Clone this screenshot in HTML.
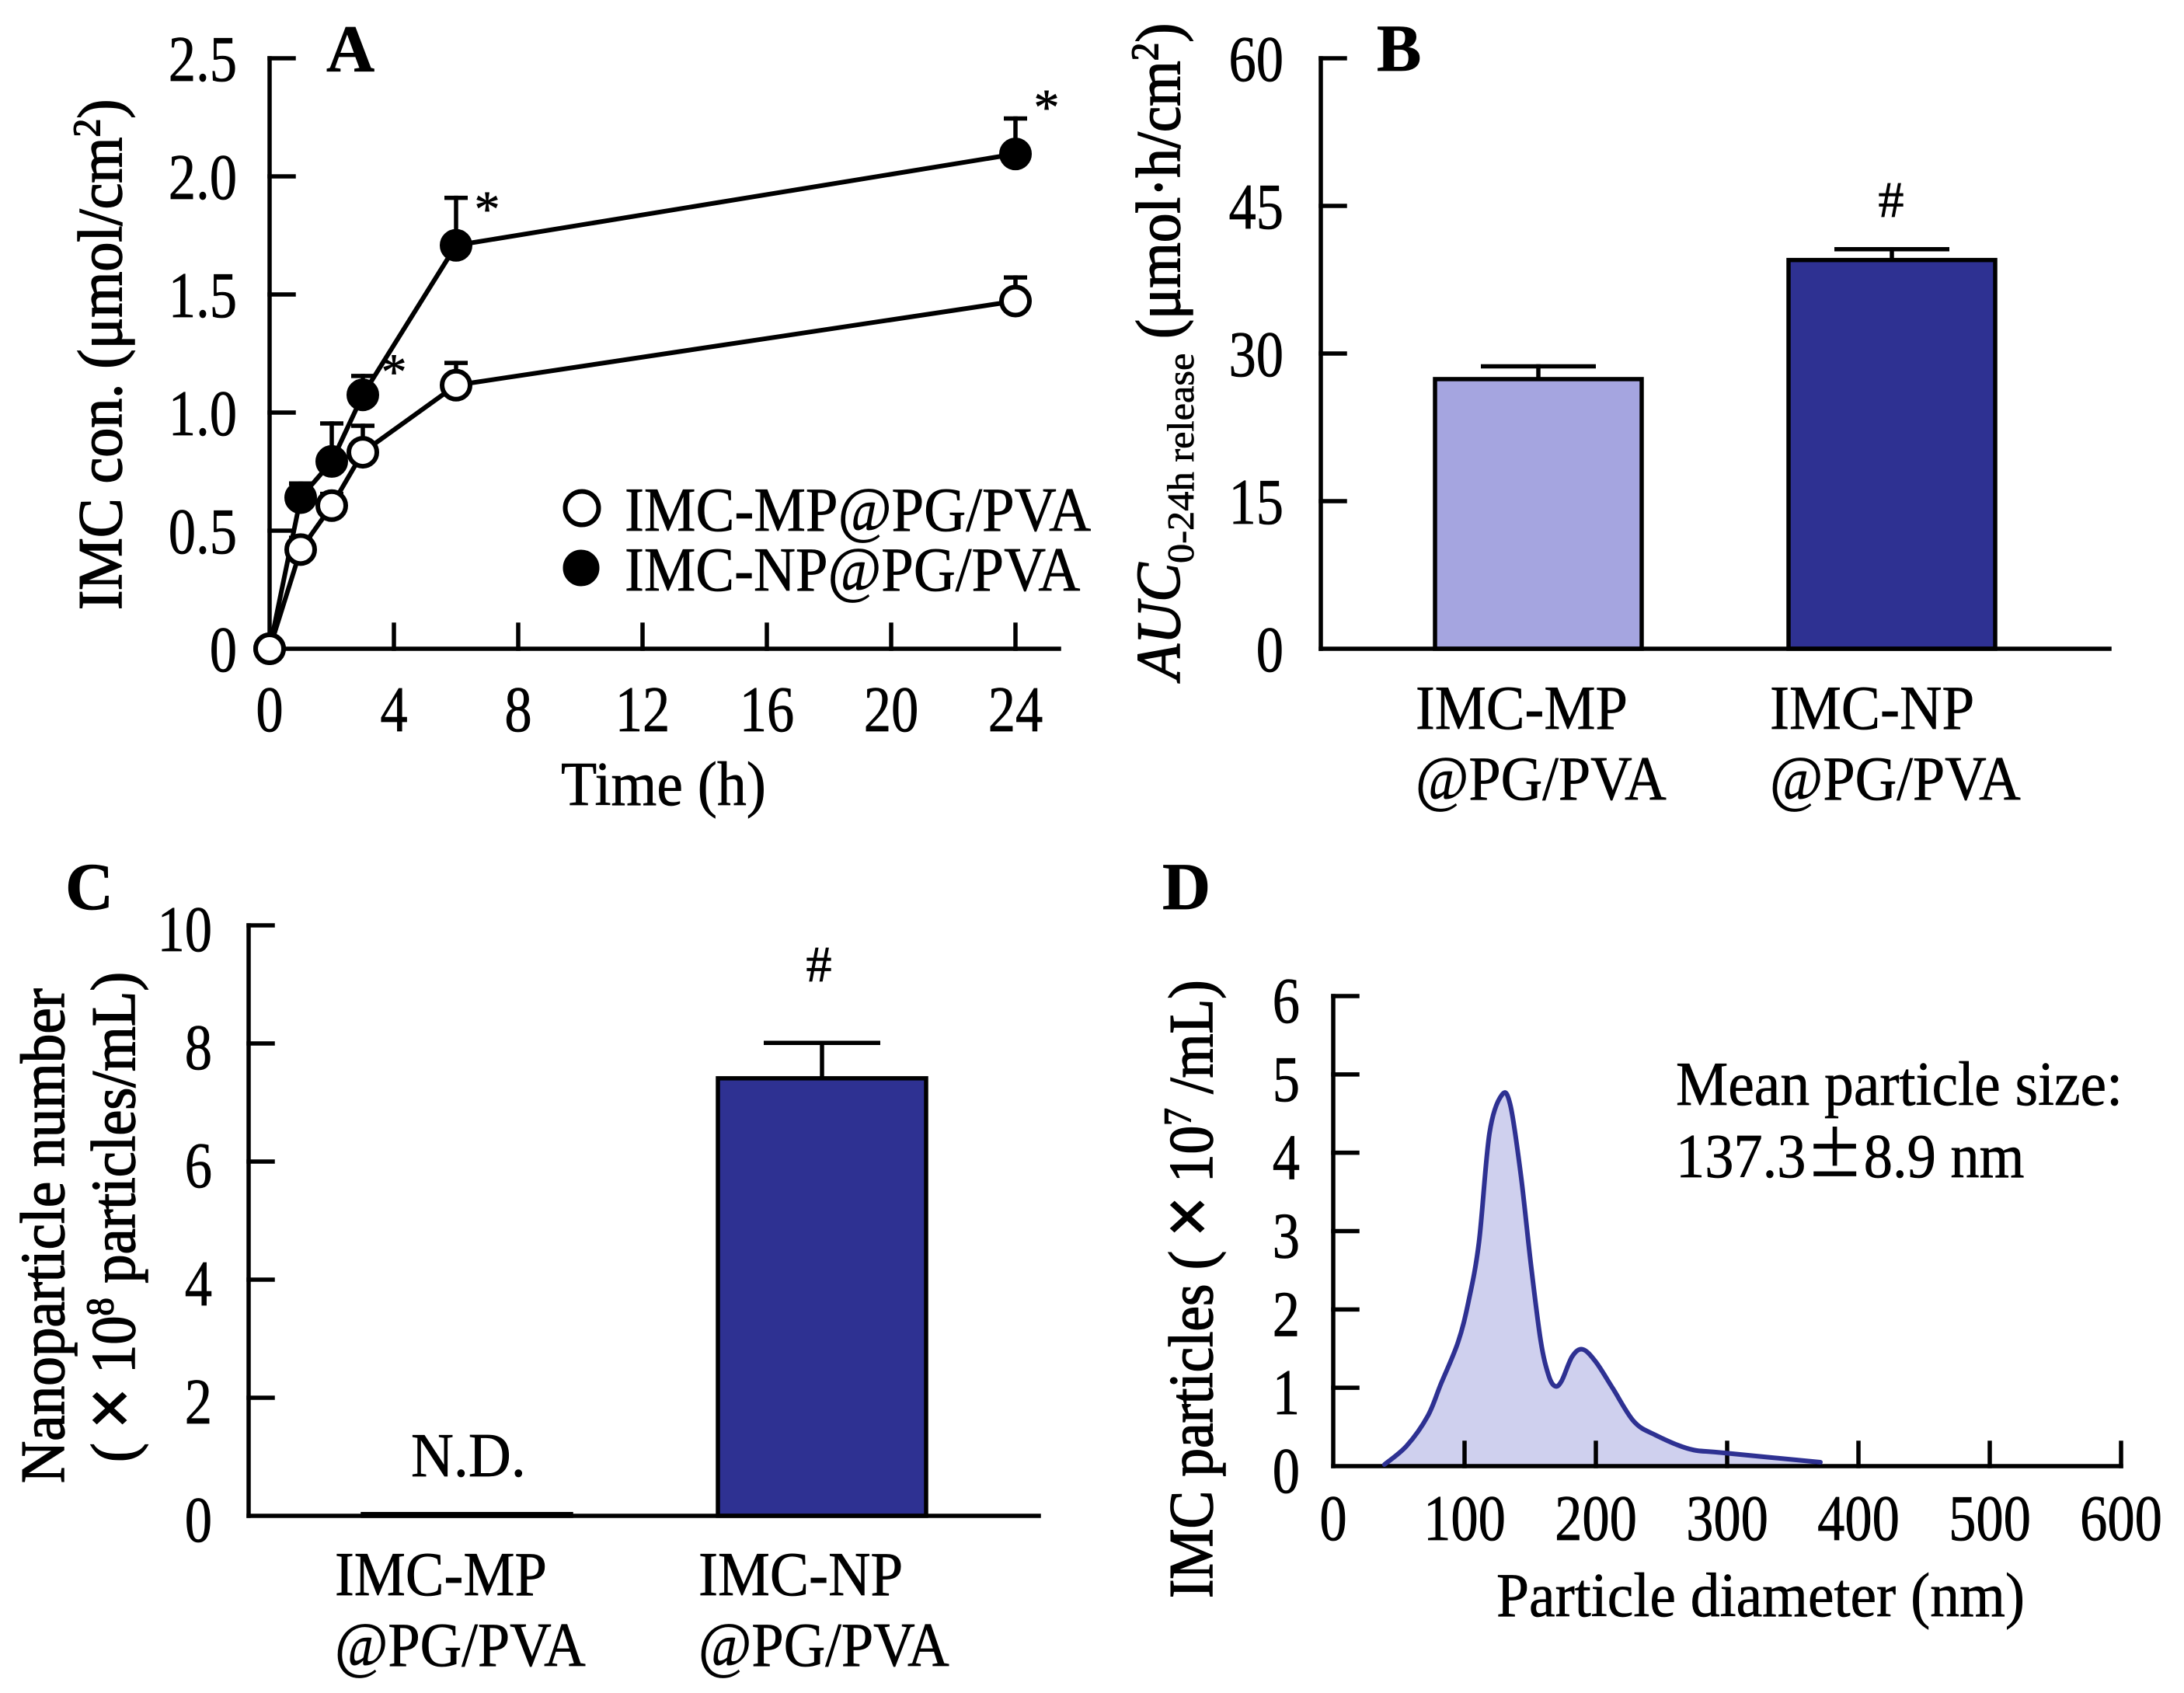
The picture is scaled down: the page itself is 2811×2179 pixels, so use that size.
<!DOCTYPE html>
<html lang="en">
<head>
<meta charset="utf-8">
<title>IMC release charts</title>
<style>
html,body{margin:0;padding:0;background:#fff;}
svg{display:block;}
text{font-family:"Liberation Serif","Times New Roman",serif;fill:#000;font-size:80px;stroke:#000;stroke-width:0.7px;}
.rot{stroke-width:1.5px;}
.bold{font-weight:bold;font-size:86px;}
.wide{font-family:"Noto Sans CJK SC","Liberation Sans",sans-serif;}
</style>
</head>
<body>
<svg id="figure" xmlns="http://www.w3.org/2000/svg" width="2811" height="2179" viewBox="0 0 2811 2179">
  <rect x="0" y="0" width="2811" height="2179" fill="#fff"/>

  <g id="panelA"></g>
  <g id="panelB"></g>
  <g id="panelC"></g>
  <g id="panelD"></g>

  <!-- panel letters -->
  <text class="bold" x="420" y="92">A</text>
  <text class="bold" x="1772" y="91">B</text>
  <text class="bold" x="84" y="1170">C</text>
  <text class="bold" x="1496" y="1170">D</text>

  <!-- panel A text -->
  <text class="rot" transform="translate(156,785) rotate(-90) scale(0.95,1)">IMC con. (μmol/cm<tspan dy="-28" style="font-size:50px">2</tspan><tspan dy="28">)</tspan></text>
  <text transform="translate(722,1036) scale(0.945,1)">Time (h)</text>
  <text transform="translate(804,683) scale(0.936,1)">IMC-MP@PG/PVA</text>
  <text transform="translate(804,760) scale(0.934,1)">IMC-NP@PG/PVA</text>

  <!-- panel B text -->
  <text class="rot" transform="translate(1518,875) rotate(-90) scale(0.94,1)" font-style="italic">AUC</text>
  <text transform="translate(1536,725) rotate(-90) scale(1.03,1)" style="font-size:49px">0-24h release</text>
  <text class="rot" transform="translate(1518,436) rotate(-90) scale(0.94,1)">(μmol·h/cm<tspan dy="-28" style="font-size:50px">2</tspan><tspan dy="28">)</tspan></text>
  <text transform="translate(1822,938) scale(0.93,1)">IMC-MP</text>
  <text transform="translate(1822,1029) scale(0.928,1)">@PG/PVA</text>
  <text transform="translate(2278,938) scale(0.94,1)">IMC-NP</text>
  <text transform="translate(2278,1029) scale(0.928,1)">@PG/PVA</text>
  <text x="2434" y="279" text-anchor="middle" style="font-size:66px">#</text>

  <!-- panel C text -->
  <text class="rot" transform="translate(82,1909) rotate(-90) scale(0.94,1)">Nanoparticle number</text>
  <text class="rot" transform="translate(173,1882) rotate(-90) scale(0.93,1)">( <tspan style="font-family:'Liberation Sans',sans-serif;font-size:96px">×</tspan> 10<tspan dy="-28" style="font-size:50px">8</tspan><tspan dy="28"> particles/mL)</tspan></text>
  <text transform="translate(529,1900) scale(0.95,1)">N.D.</text>
  <text transform="translate(431,2053) scale(0.93,1)">IMC-MP</text>
  <text transform="translate(431,2144) scale(0.928,1)">@PG/PVA</text>
  <text transform="translate(899,2053) scale(0.94,1)">IMC-NP</text>
  <text transform="translate(899,2144) scale(0.928,1)">@PG/PVA</text>
  <text x="1054" y="1263" text-anchor="middle" style="font-size:66px">#</text>

  <!-- panel D text -->
  <text class="rot" transform="translate(1560,2057) rotate(-90) scale(0.915,1)">IMC particles ( <tspan style="font-family:'Liberation Sans',sans-serif;font-size:96px">×</tspan> 10<tspan dy="-28" style="font-size:50px">7</tspan><tspan dy="28"> /mL)</tspan></text>
  <text transform="translate(1926,2080) scale(0.945,1)">Particle diameter (nm)</text>
  <text transform="translate(2157,1422) scale(0.945,1)">Mean particle size:</text>
  <text transform="translate(2157,1515) scale(0.93,1)">137.3<tspan class="wide">±</tspan>8.9 nm</text>
</svg>

<script>
// Panel A data
const timeHours = [0, 1, 2, 3, 6, 24];
const mpMeans = [0, 0.42, 0.606, 0.832, 1.116, 1.472];
const mpErrors = [0, 0.05, 0.05, 0.112, 0.094, 0.1];
const npMeans = [0, 0.64, 0.793, 1.075, 1.708, 2.095];
const npErrors = [0, 0.06, 0.161, 0.08, 0.201, 0.15];
const aSignificantHours = [3, 6, 24];
const aStarHeights = [1.1, 1.79, 2.22];
const aXTicks = [0, 4, 8, 12, 16, 20, 24];
const aYTicks = [0, 0.5, 1, 1.5, 2, 2.5];
const aYTickLabels = ['0', '0.5', '1.0', '1.5', '2.0', '2.5'];

// Panel B data
const bCategories = ['IMC-MP', 'IMC-NP'];
const bValues = [27.4, 39.5];
const bErrors = [1.3, 1.1];
const bYTicks = [0, 15, 30, 45, 60];

// Panel C data
const cCategories = ['IMC-MP', 'IMC-NP'];
const cValues = [0.03, 7.41];
const cErrors = [0, 0.6];
const cYTicks = [0, 2, 4, 6, 8, 10];

// Panel D data
const dDiameters = [39, 56, 72, 82, 95, 103, 111, 119, 128.5, 135, 143, 150.5, 158, 164, 169, 174, 182, 190, 200, 213, 229, 245, 271, 297, 371];
const dCounts = [0.02, 0.26, 0.64, 1.05, 1.58, 2.1, 2.86, 4.25, 4.74, 4.6, 3.7, 2.58, 1.6, 1.16, 1.02, 1.09, 1.4, 1.49, 1.33, 0.99, 0.57, 0.4, 0.22, 0.17, 0.05];
const dXTicks = [0, 100, 200, 300, 400, 500, 600];
const dYTicks = [0, 1, 2, 3, 4, 5, 6];

const NS = 'http://www.w3.org/2000/svg';
const LW = 5.5;

function add(parent, tag, attrs, name) {
  const el = document.createElementNS(NS, tag);
  Object.keys(attrs).forEach(function (k) { el.setAttribute(k, attrs[k]); });
  
  
  parent.appendChild(el);
  return el;
}

function tickText(parent, px, py, str, anchor, name) {
  const el = add(parent, 'text', {
    transform: 'translate(' + px + ',' + py + ') scale(0.84,1)',
    'text-anchor': anchor,
    style: 'font-size:84px'
  }, name);
  el.textContent = str;
  return el;
}

function seg(parent, x1, y1, x2, y2, name, color) {
  return add(parent, 'line', {
    x1: x1, y1: y1, x2: x2, y2: y2,
    stroke: color || '#000', 'stroke-width': LW, 'stroke-linecap': 'square'
  }, name);
}

function yAxis(parent, prefix, x0, xEnd, yTop, yBot, ticks, labels, sy, labelRight, labelDrop) {
  seg(parent, x0, yTop, x0, yBot, prefix + '-y-axis-line');
  seg(parent, x0, yBot, xEnd, yBot, prefix + '-x-axis-line');
  ticks.forEach(function (t, i) {
    if (t !== 0) {
      seg(parent, x0, sy(t), x0 + 31, sy(t), prefix + '-y-tick');
    }
    tickText(parent, labelRight, sy(t) + labelDrop, labels[i], 'end', prefix + '-y-tick-label');
  });
}

/* ---------- Panel A ---------- */
const aX = function (h) { return 347 + h * 40; };
const aY = function (v) { return 835 - v * 304; };
const gA = document.getElementById('panelA');
yAxis(gA, 'a', 347, 1363, 75, 835, aYTicks, aYTickLabels, aY, 305, 29);
aXTicks.forEach(function (t) {
  if (t !== 0) {
    seg(gA, aX(t), 835, aX(t), 804, 'a-x-tick');
  }
  tickText(gA, aX(t), 941, String(t), 'middle', 'a-x-tick-label');
});

function drawSeries(parent, means, errors, filled, prefix) {
  timeHours.forEach(function (h, i) {
    if (errors[i] > 0) {
      const top = aY(means[i] + errors[i]);
      seg(parent, aX(h), aY(means[i]), aX(h), top, prefix + '-error-bar');
      add(parent, 'line', {
        x1: aX(h) - 15, y1: top, x2: aX(h) + 15, y2: top,
        stroke: '#000', 'stroke-width': LW
      }, prefix + '-error-cap');
    }
  });
  const pts = timeHours.map(function (h, i) { return aX(h) + ',' + aY(means[i]); }).join(' ');
  add(parent, 'polyline', {
    points: pts, fill: 'none', stroke: '#000', 'stroke-width': 6, 'stroke-linejoin': 'round'
  }, prefix + '-line');
  timeHours.forEach(function (h, i) {
    add(parent, 'circle', {
      cx: aX(h), cy: aY(means[i]), r: 18,
      fill: filled ? '#000' : '#fff', stroke: '#000', 'stroke-width': 6
    }, prefix + '-point');
  });
}
drawSeries(gA, npMeans, npErrors, true, 'np-series');
drawSeries(gA, mpMeans, mpErrors, false, 'mp-series');

aSignificantHours.forEach(function (h, i) {
  const star = add(gA, 'text', {
    x: aX(h) + 40,
    y: aY(aStarHeights[i]),
    'text-anchor': 'middle',
    style: 'font-size:66px'
  }, 'a-significance-star');
  star.textContent = '*';
});

const legendOpen = add(gA, 'circle', { cx: 749, cy: 654, r: 21.5, fill: '#fff', stroke: '#000', 'stroke-width': 6 }, 'legend-marker-mp');
const legendFilled = add(gA, 'circle', { cx: 748, cy: 731, r: 21, fill: '#000', stroke: '#000', 'stroke-width': 5 }, 'legend-marker-np');

/* ---------- Bar helpers ---------- */
function drawBars(parent, prefix, values, errors, colors, sy, baseY, centerOf, halfW, capHalf) {
  values.forEach(function (v, i) {
    const cx = centerOf(i);
    if (errors[i] > 0) {
      const top = sy(v + errors[i]);
      seg(parent, cx, sy(v), cx, top, prefix + '-error-bar');
      add(parent, 'line', {
        x1: cx - capHalf, y1: top, x2: cx + capHalf, y2: top,
        stroke: '#000', 'stroke-width': LW
      }, prefix + '-error-cap');
    }
    add(parent, 'rect', {
      x: cx - halfW, y: sy(v), width: halfW * 2, height: baseY - sy(v),
      fill: colors[i], stroke: '#000', 'stroke-width': LW
    }, prefix + '-bar-' + i);
  });
}

/* ---------- Panel B ---------- */
const bY = function (v) { return 835 - v * (760 / 60); };
const bCenter = function (i) { return 1980 + 455 * i; };
const gB = document.getElementById('panelB');
drawBars(gB, 'b', bValues, bErrors, ['#A5A5E0', '#2E3192'], bY, 835, bCenter, 133, 74);
yAxis(gB, 'b', 1700, 2715, 75, 835, bYTicks, bYTicks.map(String), bY, 1652, 29);

/* ---------- Panel C ---------- */
const cY = function (v) { return 1951 - v * 76; };
const cCenter = function (i) { return 601 + 457 * i; };
const gC = document.getElementById('panelC');
drawBars(gC, 'c', cValues, cErrors, ['#2E3192', '#2E3192'], cY, 1951, cCenter, 134, 75);
yAxis(gC, 'c', 320, 1337, 1191, 1951, cYTicks, cYTicks.map(String), cY, 273, 33);

/* ---------- Panel D ---------- */
const dX = function (n) { return 1716 + n * (1014 / 600); };
const dY = function (v) { return 1887 - v * (605 / 6); };
const gD = document.getElementById('panelD');

function smoothPath(xs, ys) {
  let d = 'M' + xs[0] + ',' + ys[0];
  for (let i = 0; i < xs.length - 1; i++) {
    const i0 = Math.max(0, i - 1);
    const i3 = Math.min(xs.length - 1, i + 2);
    const c1x = xs[i] + (xs[i + 1] - xs[i0]) / 6;
    const c1y = ys[i] + (ys[i + 1] - ys[i0]) / 6;
    const c2x = xs[i + 1] - (xs[i3] - xs[i]) / 6;
    const c2y = ys[i + 1] - (ys[i3] - ys[i]) / 6;
    d += ' C' + c1x + ',' + c1y + ' ' + c2x + ',' + c2y + ' ' + xs[i + 1] + ',' + ys[i + 1];
  }
  return d;
}
const dPx = dDiameters.map(dX);
const dPy = dCounts.map(dY);
const dCurve = smoothPath(dPx, dPy);
add(gD, 'path', {
  d: dCurve + ' L' + dPx[dPx.length - 1] + ',' + dY(0) + ' L' + dPx[0] + ',' + dY(0) + ' Z',
  fill: '#CFD0EE', stroke: 'none'
}, 'd-distribution-area');
yAxis(gD, 'd', 1716, 2730, 1282, 1887, dYTicks, dYTicks.map(String), dY, 1673, 34);
dXTicks.forEach(function (t) {
  if (t !== 0) {
    seg(gD, dX(t), 1887, dX(t), 1857, 'd-x-tick');
  }
  tickText(gD, dX(t), 1982, String(t), 'middle', 'd-x-tick-label');
});
add(gD, 'path', {
  d: dCurve, fill: 'none', stroke: '#2E3192', 'stroke-width': 6, 'stroke-linejoin': 'round', 'stroke-linecap': 'round'
}, 'd-distribution-curve');
</script>
</body>
</html>
